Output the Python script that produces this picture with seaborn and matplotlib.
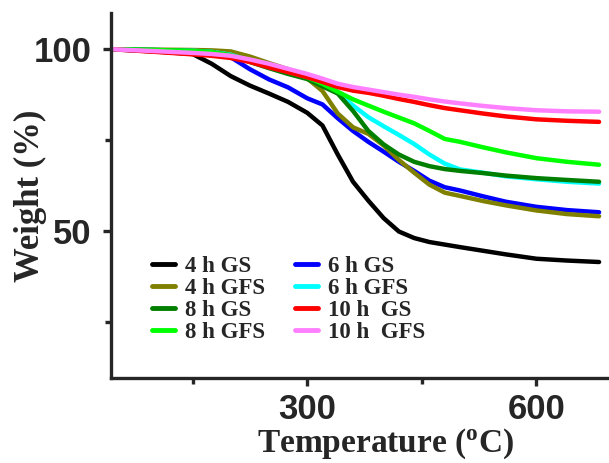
import numpy as np
import pandas as pd
import matplotlib
matplotlib.use("Agg")
import matplotlib.pyplot as plt
from matplotlib.ticker import MultipleLocator
import seaborn as sns

# ----------------- DATA -----------------
temperature = [45, 100, 150, 175, 200, 225, 250, 275, 300, 320, 340, 360,
               380, 400, 420, 440, 460, 480, 500, 530, 560, 600, 640, 682]

gs_4h = [100, 99.4, 98.7, 96.0, 92.6, 90.0, 87.8, 85.5, 82.5, 79.0, 71.0, 63.5,
         58.3, 53.5, 49.8, 48.0, 46.9, 46.2, 45.5, 44.5, 43.5, 42.3, 41.8, 41.4]
gfs_4h = [100, 99.9, 99.8, 99.7, 99.4, 98.0, 96.2, 94.5, 92.0, 88.5, 82.3, 78.5,
          76.7, 73.5, 69.5, 66.0, 62.7, 60.5, 59.6, 58.2, 57.0, 55.6, 54.6, 54.0]
gs_8h = [100, 99.8, 99.5, 99.2, 98.3, 96.5, 94.8, 93.2, 91.8, 89.8, 87.8, 83.0,
         77.5, 73.8, 71.0, 69.0, 67.8, 67.0, 66.5, 65.9, 65.2, 64.5, 64.0, 63.5]
gfs_8h = [100, 99.8, 99.5, 99.2, 98.3, 96.8, 95.2, 93.8, 92.3, 90.5, 88.3, 86.2,
          84.5, 82.8, 81.2, 79.6, 77.5, 75.3, 74.5, 73.0, 71.6, 70.0, 69.0, 68.2]
gs_6h = [100, 99.6, 99.3, 99.0, 97.8, 94.5, 91.7, 89.5, 86.5, 84.8, 81.0, 77.5,
         74.5, 71.8, 69.0, 66.5, 63.8, 62.0, 61.1, 59.5, 58.0, 56.6, 55.7, 55.1]
gfs_6h = [100, 99.8, 99.6, 99.3, 98.5, 96.8, 95.2, 93.7, 92.2, 90.3, 88.0, 84.5,
          81.3, 78.8, 76.4, 73.9, 71.0, 68.5, 66.9, 66.0, 65.0, 64.2, 63.5, 63.0]
gs_10h = [100, 99.3, 98.6, 98.2, 97.6, 96.5, 95.0, 93.7, 92.3, 91.0, 89.6, 88.6,
          88.0, 87.2, 86.3, 85.5, 84.6, 83.8, 83.2, 82.3, 81.5, 80.7, 80.3, 80.0]
gfs_10h = [100, 99.5, 99.0, 98.7, 98.2, 97.2, 96.0, 94.6, 93.2, 91.9, 90.5, 89.6,
           88.9, 88.2, 87.5, 86.9, 86.2, 85.6, 85.1, 84.4, 83.8, 83.2, 82.9, 82.8]

labels = ["4 h GS", "4 h GFS", "8 h GS", "8 h GFS",
          "6 h GS", "6 h GFS", "10 h  GS", "10 h  GFS"]
series = [gs_4h, gfs_4h, gs_8h, gfs_8h, gs_6h, gfs_6h, gs_10h, gfs_10h]
colors = ["#000000", "#808000", "#007F00", "#00FF00",
          "#0000FF", "#00FFFF", "#FF0000", "#FF80FF"]

# draw order (last on top)
draw_order = ["4 h GS", "6 h GS", "4 h GFS", "6 h GFS", "8 h GS",
              "8 h GFS", "10 h  GS", "10 h  GFS"]

frames = []
for lab, vals in zip(labels, series):
    frames.append(pd.DataFrame({"Temperature": temperature, "Weight": vals, "Sample": lab}))
df = pd.concat(frames, ignore_index=True)

# ----------------- PLOTTING -----------------
sns.set_style("ticks")
plt.rcParams["mathtext.fontset"] = "custom"
plt.rcParams["mathtext.rm"] = "Liberation Serif:bold"
plt.rcParams["mathtext.it"] = "Liberation Serif:bold"

fig = plt.figure(figsize=(6.09, 4.63), dpi=100)
ax = fig.add_axes([0.182, 0.184, 0.818, 0.788])

palette = dict(zip(labels, colors))
for lab in draw_order:
    sns.lineplot(data=df[df["Sample"] == lab], x="Temperature", y="Weight",
                 color=palette[lab], linewidth=3.2, ax=ax, label=lab)

ax.set_xlim(43, 695)
ax.set_ylim(9.5, 110)
ax.xaxis.set_major_locator(MultipleLocator(300))
ax.xaxis.set_minor_locator(MultipleLocator(150))
ax.yaxis.set_major_locator(MultipleLocator(50))
ax.yaxis.set_minor_locator(MultipleLocator(25))

for s in ["top", "right"]:
    ax.spines[s].set_visible(False)
for s in ["left", "bottom"]:
    ax.spines[s].set_linewidth(2.4)

ax.tick_params(which="major", direction="out", length=6, width=2.4, pad=8)
ax.tick_params(axis="x", which="major", pad=5)
ax.tick_params(which="minor", direction="out", length=4, width=2.4)
for t in ax.get_xticklabels() + ax.get_yticklabels():
    t.set_fontfamily("Liberation Sans")
    t.set_fontweight("bold")
    t.set_fontsize(25)

ax.set_xlabel(r"Temperature ($^{\mathrm{o}}$C)", fontfamily="Liberation Serif",
              fontweight="bold", fontsize=24)
ax.set_ylabel("Weight (%)", fontfamily="Liberation Serif",
              fontweight="bold", fontsize=25)
ax.xaxis.set_label_coords(0.552, -0.133)
ax.yaxis.set_label_coords(-0.128, 0.5)

handles, hlabels = ax.get_legend_handles_labels()
hmap = dict(zip(hlabels, handles))
leg = ax.legend([hmap[l] for l in labels], labels, loc="upper left",
                bbox_to_anchor=(0.064, 0.36), borderaxespad=0, ncol=2,
                frameon=False, handlelength=1.0, handletextpad=0.45,
                columnspacing=1.3, labelspacing=0.05,
                prop={"family": "Liberation Serif", "weight": "bold", "size": 16.5})
for line in leg.get_lines():
    line.set_linewidth(3.5)

fig.savefig("out.png", dpi=100, facecolor="white")
